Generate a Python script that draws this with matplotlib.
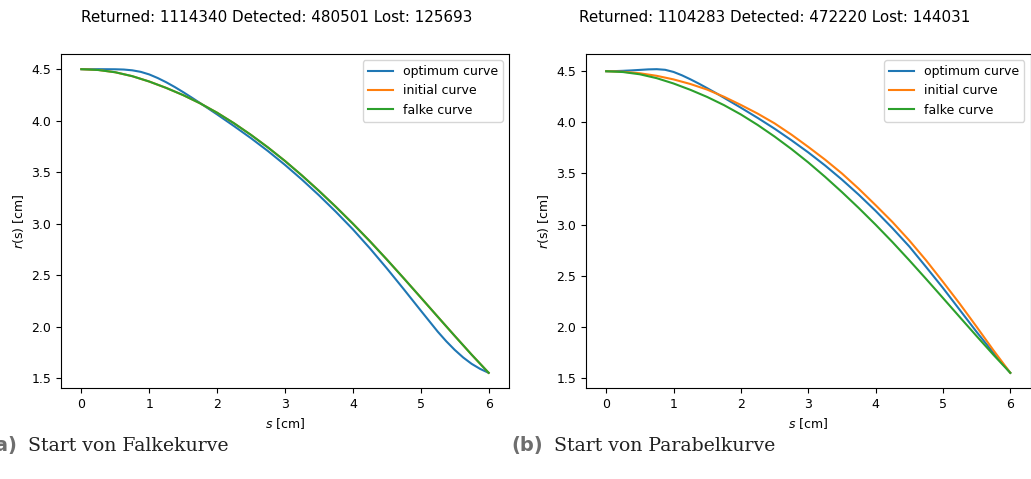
"""Optimierte Meridiankurven r(s) für zwei Startkurven nebeneinander."""
import matplotlib
matplotlib.use("Agg")
import matplotlib.pyplot as plt

# Stützstellen entlang der Bogenlänge s [cm] für Start- und Falkekurve
s = [0.0, 0.25, 0.5, 0.75, 1.0, 1.25, 1.5, 1.75, 2.0, 2.25, 2.5, 2.75, 3.0,
     3.25, 3.5, 3.75, 4.0, 4.25, 4.5, 4.75, 5.0, 5.25, 5.5, 5.75, 6.0]

# Falkekurve (Startkurve links, Vergleich rechts)
falke = [4.500, 4.492, 4.470, 4.432, 4.380, 4.318, 4.248, 4.168, 4.077, 3.974,
         3.861, 3.739, 3.608, 3.467, 3.318, 3.162, 2.999, 2.829, 2.651, 2.468,
         2.282, 2.095, 1.909, 1.726, 1.550]

# Parabelkurve als Startkurve
parabel = [4.500, 4.495, 4.480, 4.455, 4.420, 4.375, 4.320, 4.250, 4.170, 4.085,
           3.990, 3.880, 3.760, 3.635, 3.500, 3.350, 3.190, 3.025, 2.845, 2.650,
           2.440, 2.225, 2.000, 1.770, 1.550]

# Optimum ausgehend von der Falkekurve (dichter an den Knicken)
s_opt_falke = [0.0, 0.25, 0.5, 0.625, 0.75, 0.875, 1.0, 1.125, 1.25, 1.375,
               1.5, 1.625, 1.75, 2.0, 2.25, 2.5, 2.75, 3.0, 3.25, 3.5, 3.75,
               4.0, 4.25, 4.5, 4.75, 5.0, 5.25, 5.375, 5.5, 5.625, 5.75,
               5.875, 6.0]
opt_falke = [4.500, 4.500, 4.499, 4.4965, 4.489, 4.474, 4.449, 4.414, 4.373,
             4.327, 4.277, 4.2245, 4.1705, 4.0605, 3.9465, 3.829, 3.704, 3.570,
             3.427, 3.275, 3.114, 2.944, 2.760, 2.565, 2.362, 2.155, 1.950,
             1.857, 1.773, 1.699, 1.637, 1.588, 1.550]

# Optimum ausgehend von der Parabel
s_opt_parabel = [0.0, 0.125, 0.25, 0.375, 0.5, 0.625, 0.75, 0.875, 1.0, 1.125,
                 1.25, 1.375, 1.5, 1.625, 1.75, 2.0, 2.25, 2.5, 2.75, 3.0,
                 3.25, 3.5, 3.75, 4.0, 4.25, 4.5, 4.75, 5.0, 5.25, 5.5, 5.75,
                 6.0]
opt_parabel = [4.500, 4.501, 4.504, 4.508, 4.513, 4.518, 4.520, 4.514, 4.493,
               4.460, 4.421, 4.379, 4.334, 4.288, 4.240, 4.143, 4.043, 3.938,
               3.825, 3.706, 3.578, 3.440, 3.292, 3.134, 2.965, 2.786, 2.585,
               2.380, 2.165, 1.950, 1.745, 1.550]

titles = ["Returned: 1114340 Detected: 480501 Lost: 125693",
          "Returned: 1104283 Detected: 472220 Lost: 144031"]
captions = [("(a)", "Start von Falkekurve"), ("(b)", "Start von Parabelkurve")]

W, H = 1031, 479
fig = plt.figure(figsize=(W / 100, H / 100), dpi=100)

ax_l = fig.add_axes([61 / W, 91 / H, 448 / W, 334 / H])
ax_r = fig.add_axes([586 / W, 91 / H, 444.5 / W, 334 / H])

panels = [(ax_l, s_opt_falke, opt_falke, falke),
          (ax_r, s_opt_parabel, opt_parabel, parabel)]
for ax, s_opt, opt, init in panels:
    ax.plot(s_opt, opt, color="#1f77b4", lw=1.5, label="optimum curve")
    ax.plot(s, init, color="#ff7f0e", lw=1.5, label="initial curve")
    ax.plot(s, falke, color="#2ca02c", lw=1.5, label="falke curve")
    ax.set_xticks(range(7))
    ax.set_yticks([1.5, 2.0, 2.5, 3.0, 3.5, 4.0, 4.5])
    ax.tick_params(labelsize=9)
    ax.set_xlabel(r"$s$ [cm]", fontsize=9)
    ax.set_ylabel(r"$r$(s) [cm]", fontsize=9)
    ax.legend(loc="upper right", fontsize=9)

fig.text(277 / W, 1 - 18 / H, titles[0], ha="center", va="center", fontsize=10.9)
fig.text(775 / W, 1 - 18 / H, titles[1], ha="center", va="center", fontsize=10.9)

# Unterschriften der Teilbilder; "(a)" läuft links über den Rand hinaus
cap_y = 33 / H
for (lab, txt), x_lab, x_txt in zip(captions, [17, 543], [28, 554]):
    fig.text(x_lab / W, cap_y, lab, ha="right", va="center", fontsize=14,
             fontweight="bold", color="#6e6e6e", family="DejaVu Sans")
    fig.text(x_txt / W, cap_y, txt, ha="left", va="center", fontsize=13.6,
             family="DejaVu Serif", color="#222222")

fig.savefig("out.png", dpi=100)
